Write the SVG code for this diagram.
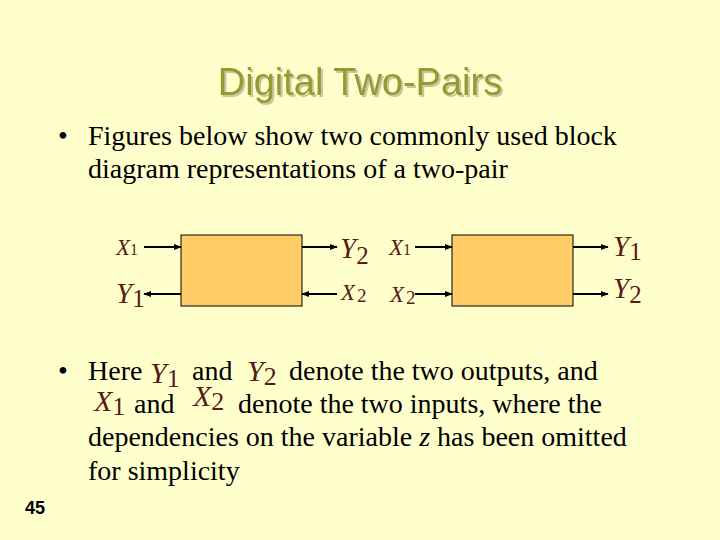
<svg xmlns="http://www.w3.org/2000/svg" width="720" height="540" viewBox="0 0 720 540">
<style>
.t{font-family:"Liberation Serif",serif;font-size:28px;fill:#000}
.v{font-family:"Liberation Serif",serif;font-style:italic;fill:#5a1a1a}
.box{fill:#FFCC66;stroke:#000;stroke-width:1}
.c{stroke:#000;stroke-width:2;fill:none;marker-end:url(#a)}
</style>
<defs>
<marker id="a" viewBox="0 0 10 10" refX="9" refY="5" markerWidth="4" markerHeight="4" orient="auto"><path d="M0,1L10,5L0,9z" fill="#000"/></marker>
<filter id="sh"><feDropShadow dx="2" dy="2" stdDeviation="0.5" flood-color="#c8c8a0"/></filter>
</defs>
<rect width="720" height="540" fill="#FFFFCC"/>
<text x="360" y="95" text-anchor="middle" font-family="Liberation Sans,sans-serif" font-size="38" fill="#999933" filter="url(#sh)">Digital Two-Pairs</text>
<text class="t" x="58" y="145">•</text>
<text class="t" x="88" y="145">Figures below show two commonly used block</text>
<text class="t" x="88" y="178">diagram representations of a two-pair</text>
<g id="box1"><rect class="box" x="181" y="235" width="121" height="71"/></g>
<g id="box2"><rect class="box" x="452" y="235" width="121" height="71"/></g>
<g id="connectors">
<line class="c" x1="144" y1="247" x2="181" y2="247"/>
<line class="c" x1="181" y1="294" x2="144" y2="294"/>
<line class="c" x1="302" y1="247" x2="337" y2="247"/>
<line class="c" x1="337" y1="294" x2="302" y2="294"/>
<line class="c" x1="415" y1="247" x2="452" y2="247"/>
<line class="c" x1="415" y1="294" x2="452" y2="294"/>
<line class="c" x1="573" y1="247" x2="608" y2="247"/>
<line class="c" x1="573" y1="294" x2="608" y2="294"/>
</g>
<g id="labels">
<text class="v" x="116" y="255" font-size="23">X<tspan font-style="normal" font-size="16">1</tspan></text>
<text class="v" x="116" y="303" font-size="29">Y<tspan font-style="normal" font-size="25" dy="4">1</tspan></text>
<text class="v" x="340" y="258" font-size="29">Y<tspan font-style="normal" font-size="25" dy="6">2</tspan></text>
<text class="v" x="341" y="300" font-size="23">X<tspan font-style="normal" font-size="19" dx="2" dy="2">2</tspan></text>
<text class="v" x="389" y="255" font-size="23">X<tspan font-style="normal" font-size="16">1</tspan></text>
<text class="v" x="390" y="302" font-size="23">X<tspan font-style="normal" font-size="19" dx="2" dy="2">2</tspan></text>
<text class="v" x="613" y="256" font-size="29">Y<tspan font-style="normal" font-size="25" dy="4">1</tspan></text>
<text class="v" x="613" y="298" font-size="29">Y<tspan font-style="normal" font-size="25" dy="5">2</tspan></text>
</g>
<text class="t" x="58" y="380">•</text>
<text class="t" x="88" y="380">Here</text>
<text class="v" x="150" y="383" font-size="30">Y<tspan font-style="normal" font-size="26" dy="4">1</tspan></text>
<text class="t" x="192" y="380">and</text>
<text class="v" x="247" y="381" font-size="30">Y<tspan font-style="normal" font-size="26" dy="4">2</tspan></text>
<text class="t" x="289" y="380">denote the two outputs, and</text>
<text class="v" x="94" y="411" font-size="30">X<tspan font-style="normal" font-size="26" dy="4">1</tspan></text>
<text class="t" x="134" y="413">and</text>
<text class="v" x="193" y="406" font-size="30">X<tspan font-style="normal" font-size="26" dy="4">2</tspan></text>
<text class="t" x="238" y="413">denote the two inputs, where the</text>
<text class="t" x="88" y="446">dependencies on the variable <tspan font-style="italic">z</tspan> has been omitted</text>
<text class="t" x="88" y="480">for simplicity</text>
<text x="25" y="514" font-family="Liberation Sans,sans-serif" font-size="18" font-weight="bold" fill="#000">45</text>
</svg>
